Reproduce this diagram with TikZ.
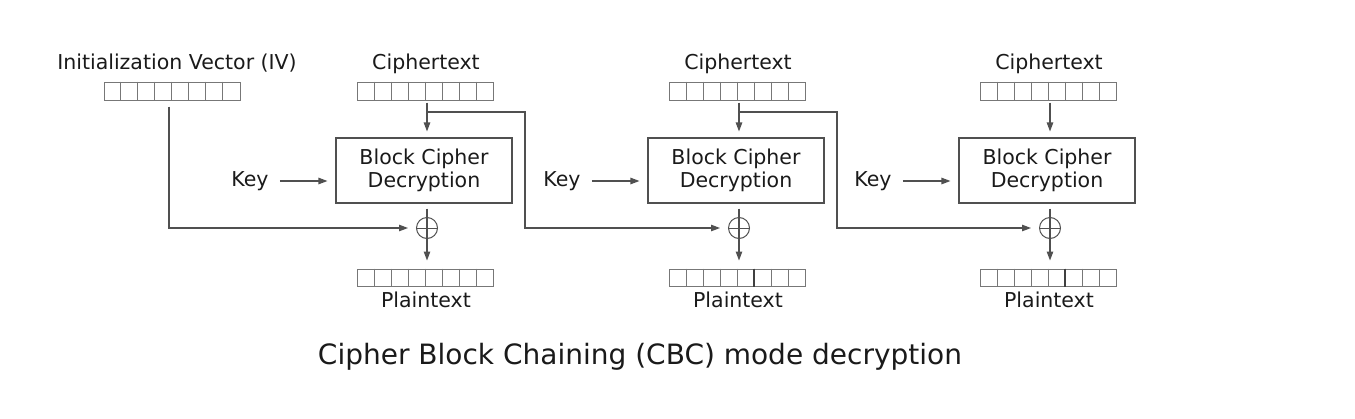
\documentclass[tikz,border=0pt]{standalone}
\usepackage{fontspec}
\setmainfont{DejaVu Sans}
\usetikzlibrary{arrows.meta,calc}
\definecolor{ln}{HTML}{505050}
\definecolor{tx}{HTML}{1a1a1a}
\definecolor{cellc}{HTML}{777777}
\begin{document}
\begin{tikzpicture}[x=1pt,y=-1pt,
 lbl/.style={text=tx,font=\fontsize{20.5}{24}\selectfont,inner sep=0pt},
 reg/.style={draw=cellc,line width=1pt,minimum width=136pt,minimum height=18pt,inner sep=0pt},
 blk/.style={draw=ln,line width=1.1pt,minimum width=176pt,minimum height=65pt,align=center,text=tx,font=\fontsize{20.5}{23}\selectfont,inner sep=0pt},
 xo/.style={circle,draw=ln,line width=1pt,minimum size=21pt,inner sep=0pt},
 con/.style={draw=ln,line width=1.1pt},
 arr/.style={con,-{Triangle[length=9pt,width=6.5pt]}},
]
\useasboundingbox (0,0) rectangle (1355,418);

% IV
\node[lbl] (ivl) at (177,63) {Initialization Vector (IV)};
\node[reg] (iv) at (172,91) {};
\foreach \i in {1,...,7}
  \draw[cellc,line width=1pt] ($(iv.north west)+(17*\i,0)$) -- ($(iv.south west)+(17*\i,0)$);

% columns
\foreach \n/\cx in {1/427,2/739,3/1050}{
  \node[lbl] (ctl\n) at (\cx-1,64) {Ciphertext};
  \node[reg] (ct\n) at (\cx-1.5,91) {};
  \foreach \i in {1,...,7}
    \draw[cellc,line width=1pt] ($(ct\n.north west)+(17*\i,0)$) -- ($(ct\n.south west)+(17*\i,0)$);
  \node[blk] (b\n) at (\cx-3,170.5) {Block Cipher\\Decryption};
  \node[lbl] (k\n) at (\cx-177,181) {Key};
  \node[xo] (x\n) at (\cx,228) {};
  \node[reg,minimum height=17pt] (pt\n) at (\cx-1.5,277.5) {};
  \foreach \i in {1,...,7}
    \draw[cellc,line width=1pt] ($(pt\n.north west)+(17*\i,0)$) -- ($(pt\n.south west)+(17*\i,0)$);
  \node[lbl] (ptl\n) at (\cx-1,300) {Plaintext};
  \coordinate (v\n) at (\cx,112);
  \coordinate (j\n) at (\cx+98,112);
  % connectors
  \draw[arr,shorten <=2pt,shorten >=6pt] (ct\n.south -| x\n) -- (b\n.north -| x\n);
  \draw[arr,shorten <=11pt,shorten >=8pt] (k\n.east) -- (k\n.east -| b\n.west);
  \draw[arr,shorten <=5pt,shorten >=8pt] (b\n.south -| x\n) -- (pt\n.north -| x\n);
  \draw[con,line width=1pt] (x\n.west) -- (x\n.east);
}
\draw[ln!80!black,line width=1.3pt] ($(pt2.north west)+(85,0)$) -- ($(pt2.south west)+(85,0)$);
\draw[ln!80!black,line width=1.3pt] ($(pt3.north west)+(85,0)$) -- ($(pt3.south west)+(85,0)$);

% IV to first XOR
\draw[arr,shorten <=6pt,shorten >=8pt] ($(iv.south)+(-3,0)$) |- (x1.west);
% chaining
\draw[arr,shorten >=8pt] (v1) -- (j1) |- (x2.west);
\draw[arr,shorten >=8pt] (v2) -- (j2) |- (x3.west);

% caption
\node[text=tx,font=\fontsize{28}{32}\selectfont,inner sep=0pt] (cap) at (640,357) {Cipher Block Chaining (CBC) mode decryption};
\end{tikzpicture}
\end{document}
